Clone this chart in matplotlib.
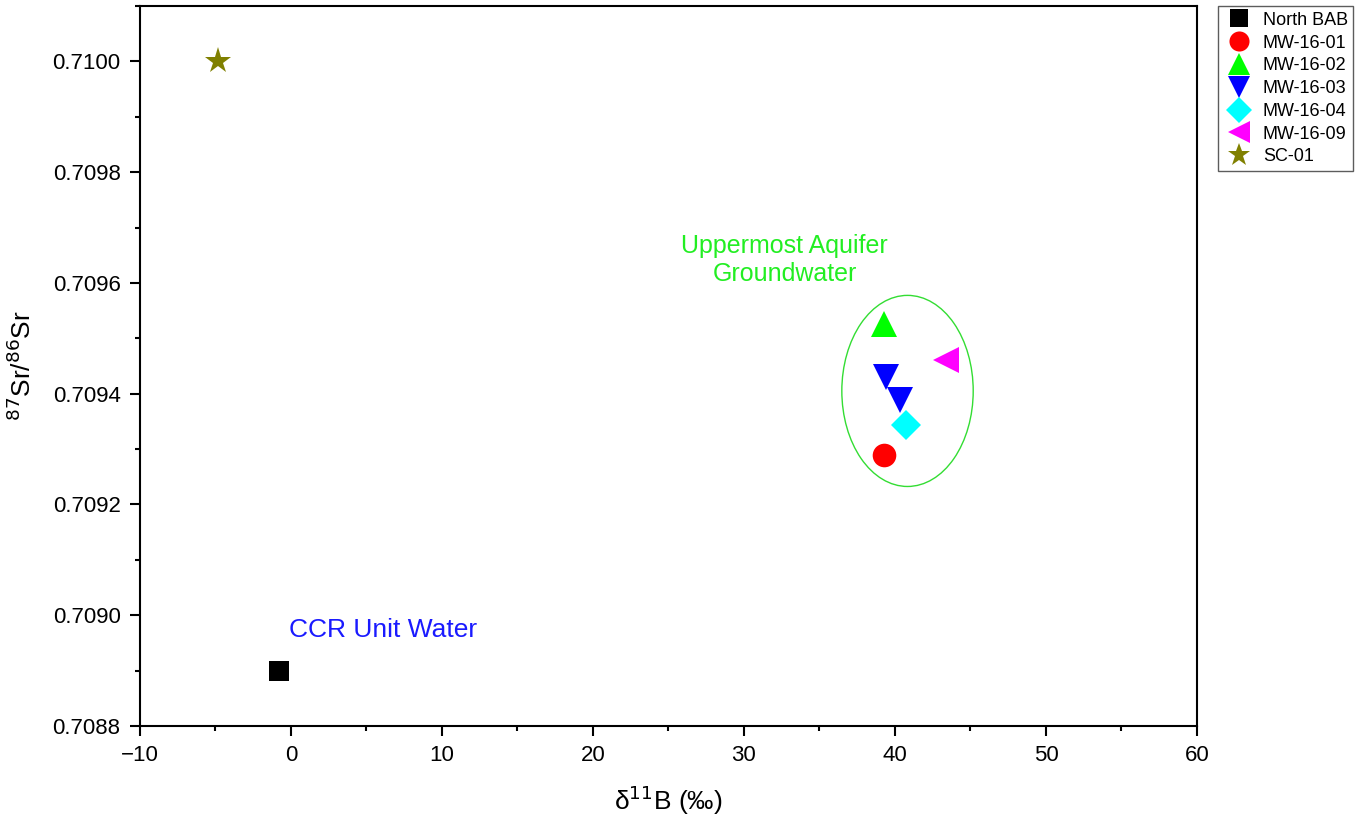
import matplotlib
matplotlib.use("Agg")

import matplotlib.pyplot as plt
from matplotlib.patches import Ellipse
from matplotlib.ticker import MultipleLocator

plt.rcParams["font.family"] = ["Liberation Sans", "DejaVu Sans"]

# sample name, d11B (permil), 87Sr/86Sr
names = ["North BAB", "MW-16-01", "MW-16-02", "MW-16-03", "MW-16-04", "MW-16-09", "SC-01"]
d11b = [[-0.8], [39.3], [39.3], [39.4, 40.3], [40.7], [43.4], [-4.8]]
sr_ratio = [[0.70890], [0.70929], [0.709525], [0.709431, 0.709389], [0.709344], [0.70946], [0.71000]]

markers = ["s", "o", "^", "v", "D", "<", "*"]
colors = ["#000000", "#ff0000", "#00ff00", "#0000ff", "#00ffff", "#ff00ff", "#808000"]
sizes = [15, 17, 19, 19, 15, 19, 20]

fig = plt.figure(figsize=(13.68, 8.21), dpi=100)
ax = fig.add_axes([0.1023, 0.1157, 0.7727, 0.877])

for name, xs, ys, m, c, s in zip(names, d11b, sr_ratio, markers, colors, sizes):
    ax.plot(xs, ys, linestyle="none", marker=m, color=c, markersize=s,
            markeredgewidth=0, label=name)

ax.add_patch(Ellipse((40.83, 0.709405), 8.7, 0.000345, fill=False,
                     edgecolor="#33dd33", linewidth=1.0))
ax.text(32.7, 0.709642, "Uppermost Aquifer\nGroundwater", color="#22ee22",
        fontsize=18, ha="center", va="center", linespacing=1.2)
ax.text(-0.1, 0.708973, "CCR Unit Water", color="#1a1aff", fontsize=19,
        ha="left", va="center")

ax.set_xlim(-10, 60)
ax.set_ylim(0.7088, 0.71010)
ax.xaxis.set_major_locator(MultipleLocator(10))
ax.xaxis.set_minor_locator(MultipleLocator(5))
ax.yaxis.set_major_locator(MultipleLocator(0.0002))
ax.yaxis.set_minor_locator(MultipleLocator(0.0001))
ax.yaxis.set_major_formatter(matplotlib.ticker.FormatStrFormatter("%.4f"))
ax.tick_params(which="both", top=False, right=False, labelsize=16, width=1.5)
ax.tick_params(which="major", length=7, pad=7)
ax.tick_params(which="minor", length=3.5)
for sp in ax.spines.values():
    sp.set_linewidth(1.5)

ax.set_xlabel("δ$^{11}$B (‰)", fontsize=19, labelpad=12)
ax.set_ylabel("$^{87}$Sr/$^{86}$Sr", fontsize=19, labelpad=12)

leg = ax.legend(loc="upper left", bbox_to_anchor=(1.011, 1.012), fontsize=13,
                frameon=True, fancybox=False, edgecolor="#333333",
                handletextpad=0.4, labelspacing=0.32, borderpad=0.3,
                markerscale=0.85, handlelength=1.8)
leg.get_frame().set_linewidth(1.0)

fig.savefig("out.png", dpi=100)
